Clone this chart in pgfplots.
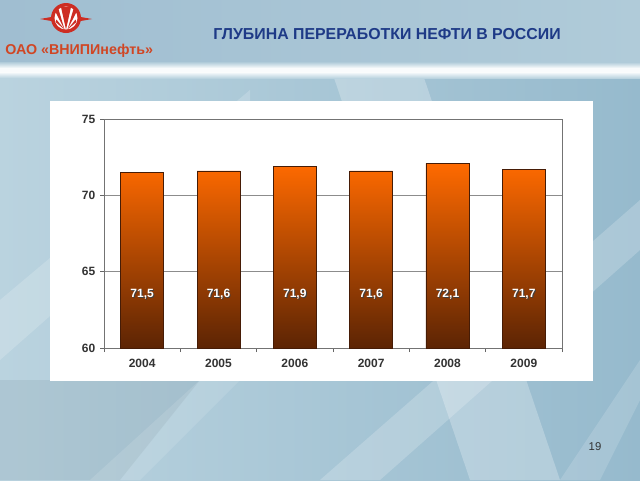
\documentclass[border=0pt]{standalone}
\usepackage{pgfplots}
\pgfplotsset{compat=1.18}
\usepackage{pgfplotstable}
\usepackage{fontspec}
\setmainfont{Liberation Sans}
\definecolor{bgL}{RGB}{186,211,223}
\definecolor{bgR}{RGB}{150,186,205}
\definecolor{banL}{RGB}{160,190,209}
\definecolor{banR}{RGB}{176,203,217}
\definecolor{titleblue}{RGB}{30,58,135}
\definecolor{logored}{RGB}{205,45,35}
\definecolor{comp}{RGB}{208,70,36}
\definecolor{barTop}{RGB}{255,106,0}
\definecolor{barMid}{RGB}{205,82,0}
\definecolor{barBot}{RGB}{92,36,4}
\definecolor{barEdge}{RGB}{70,28,6}

\pgfplotstableread{
x y
0 71.5
1 71.6
2 71.9
3 71.6
4 72.1
5 71.7
}\depthdata

\begin{document}
\begin{tikzpicture}
\useasboundingbox (0,0) rectangle (480pt,-360pt);
\begin{scope}[x=0.75pt,y=-0.75pt]
  % background
  \fill[left color=bgL, right color=bgR] (0,0) rectangle (640,480);
  \fill[left color=banL, right color=banR] (0,0) rectangle (640,66);
  \fill[black!30!bgR, opacity=0.15] (0,380) -- (200,380) -- (120,480) -- (0,480) -- cycle;
  \fill[white, opacity=0.25] (330,66) -- (420,66) -- (560,480) -- (470,480) -- cycle;
  \fill[white, opacity=0.18] (0,300) -- (0,360) -- (250,140) -- (250,90) -- cycle;
  \fill[white, opacity=0.2] (640,200) -- (640,250) -- (380,480) -- (320,480) -- cycle;
  \fill[white, opacity=0.15] (560,480) -- (640,360) -- (640,400) -- (600,480) -- cycle;
  \fill[white, opacity=0.12] (90,480) -- (200,380) -- (240,380) -- (140,480) -- cycle;
  \fill[top color=banR, bottom color=white!90!bgL] (0,62) rectangle (640,68);
  \fill[white!92!bgL] (0,68) rectangle (640,72);
  \fill[top color=white!92!bgL, bottom color=bgL] (0,72) rectangle (640,78);
  % white panel
  \fill[white] (50,101) rectangle (593,381);
  % logo
  \fill[logored] (40,19) -- (54,16.5) -- (54,21.5) -- cycle;
  \fill[logored] (92,19) -- (78,16.5) -- (78,21.5) -- cycle;
  \fill[logored] (66,18) circle (15);
  \fill[white] (66,18) circle (11.5);
  \fill[logored] (61,7) -- (71,7) -- (66,29.5) -- cycle;
  \fill[logored] (55,11) -- (58.5,9) -- (64.5,29.5) -- cycle;
  \fill[logored] (77,11) -- (73.5,9) -- (67.5,29.5) -- cycle;
  \fill[logored] (55.5,22) -- (56.5,19.5) -- (64.5,29.5) -- cycle;
  \fill[logored] (76.5,22) -- (75.5,19.5) -- (67.5,29.5) -- cycle;
  % texts
  \node[anchor=west, text=comp, inner sep=0pt, font=\bfseries\fontsize{10.7}{12}\selectfont] at (5,50.5) {ОАО «ВНИПИнефть»};
  \node[anchor=center, text=titleblue, inner sep=0pt, font=\bfseries\fontsize{11.9}{13}\selectfont] at (387,34) {ГЛУБИНА ПЕРЕРАБОТКИ НЕФТИ В РОССИИ};
  \node[anchor=center, text=black!80, inner sep=0pt, font=\fontsize{8.5}{10}\selectfont] at (595,447) {19};
\end{scope}
\begin{axis}[
  at={(78pt,-261pt)}, anchor=south west,
  width=343.5pt, height=171.75pt, scale only axis,
  xmin=-0.5, xmax=5.5, ymin=60, ymax=75,
  ytick={60,65,70,75},
  ymajorgrids, grid style={black!45, line width=0.5pt},
  xtick={0,1,2,3,4,5},
  xticklabels={2004,2005,2006,2007,2008,2009},
  major x tick style={draw=none},
  minor xtick={-0.5,0.5,1.5,2.5,3.5,4.5,5.5},
  xtick pos=bottom, ytick pos=left,
  tick align=outside,
  major tick length=3pt, minor tick length=3pt,
  axis line style={black!55, line width=0.6pt},
  tick style={black!60, line width=0.6pt},
  ticklabel style={font=\bfseries\fontsize{9}{10}\selectfont, text=black!80},
  xticklabel style={yshift=-2pt},
  /pgf/number format/assume math mode=true,
  clip=true,
]
\addplot[ybar, bar width=32.25pt, draw=barEdge, line width=0.5pt,
  top color=barTop, middle color=barMid, bottom color=barBot]
  table[x=x, y=y] {\depthdata};
\addplot[draw=none, nodes near coords={\pgfmathprintnumber[fixed,fixed zerofill,precision=1,use comma]{\pgfplotspointmeta}},
  point meta=explicit,
  every node near coord/.append style={anchor=center, text=black!75, font=\bfseries\fontsize{9}{10}\selectfont, xshift=0.7pt, yshift=-0.7pt}]
  table[x=x, y expr=63.5, meta=y] {\depthdata};
\addplot[draw=none, nodes near coords={\pgfmathprintnumber[fixed,fixed zerofill,precision=1,use comma]{\pgfplotspointmeta}},
  point meta=explicit,
  every node near coord/.append style={anchor=center, text=white, font=\bfseries\fontsize{9}{10}\selectfont}]
  table[x=x, y expr=63.5, meta=y] {\depthdata};
\end{axis}
\end{tikzpicture}
\end{document}
